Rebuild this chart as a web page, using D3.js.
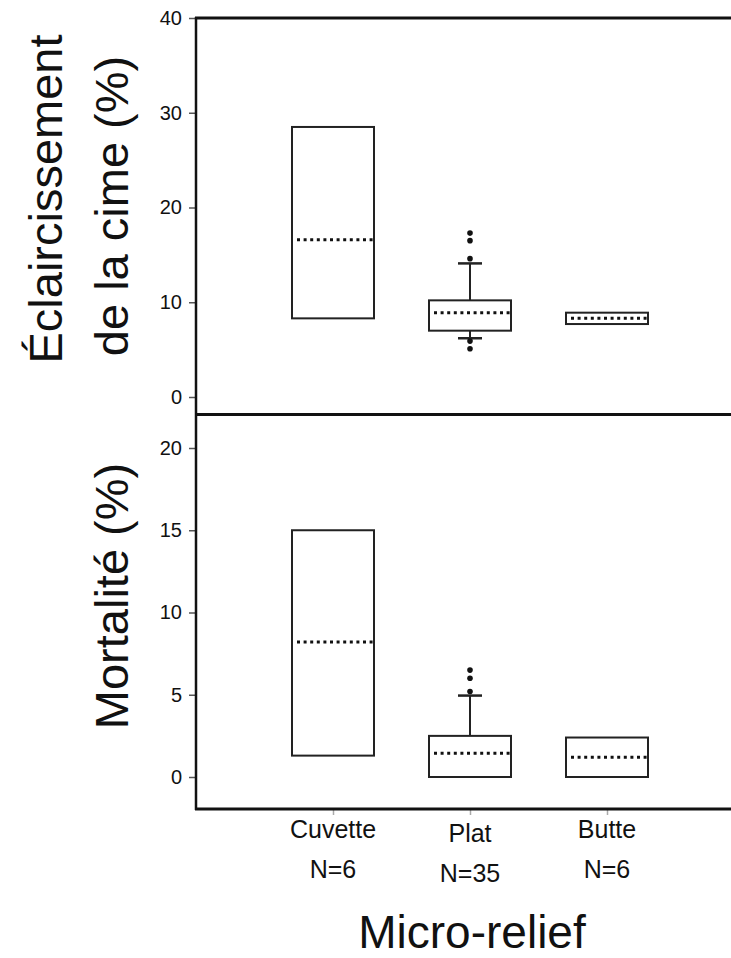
<!DOCTYPE html>
<html>
<head>
<meta charset="utf-8">
<script src="https://cdn.jsdelivr.net/npm/d3@7"></script>
<style>
  body { margin: 0; background: #fff; }
  svg text { font-family: Arial, "Liberation Sans", sans-serif; fill: #111; }
</style>
</head>
<body>
<svg id="chart" width="731" height="958"></svg>
<script>
// categories + sample sizes
const categories = ['Cuvette', 'Plat', 'Butte'];
const counts = [6, 35, 6];

// Éclaircissement de la cime (%)
const crownQ1 = [8.3, 7.0, 7.7];
const crownMedian = [16.6, 8.9, 8.3];
const crownQ3 = [28.5, 10.2, 8.9];
const crownLow = [null, 6.2, null];
const crownHigh = [null, 14.1, null];
const crownOutliers = [[], [17.3, 16.5, 14.6, 5.9, 5.1], []];
const crownTicks = [0, 10, 20, 30, 40];

// Mortalité (%)
const mortQ1 = [1.3, 0, 0];
const mortMedian = [8.2, 1.45, 1.2];
const mortQ3 = [15.0, 2.5, 2.4];
const mortLow = [null, null, null];
const mortHigh = [null, 4.95, null];
const mortOutliers = [[], [6.5, 6.0, 5.2], []];
const mortTicks = [0, 5, 10, 15, 20];

const svg = d3.select('#chart');
const left = 196, right = 731;
const topY = 18, sepY = 414.5, bottomY = 809;

// category centres, 137px apart
let xc = d3.scalePoint().domain(categories).range([333, 607]);
const boxW = 82;

let yTop = d3.scaleLinear().domain([0, 40]).range([397, 18]);
let yBot = d3.scaleLinear().domain([0, 20]).range([777, 448]);

function makeData(q1, med, q3, lo, hi, outs) {
  return categories.map((c, i) => ({
    cat: c, q1: q1[i], med: med[i], q3: q3[i], lo: lo[i], hi: hi[i], out: outs[i]
  }));
}

function drawAxis(y, ticks) {
  let g = svg.append('g')
    .attr('transform', 'translate(' + left + ',0)')
    .call(d3.axisLeft(y).tickValues(ticks).tickSize(7).tickPadding(7));
  g.select('.domain').remove();
  g.selectAll('.tick line').attr('stroke', '#555').attr('stroke-width', 1.5);
  g.selectAll('.tick text')
    .style('font-size', '20px')
    .attr('fill', '#333');
}

function drawBoxes(data, y) {
  let g = svg.append('g').attr('class', 'boxes');
  let box = g.selectAll('g.box')
    .data(data)
    .enter().append('g')
    .attr('class', 'box');

  // whiskers
  box.filter(d => d.hi != null).append('line')
    .attr('x1', d => xc(d.cat)).attr('x2', d => xc(d.cat))
    .attr('y1', d => y(d.q3)).attr('y2', d => y(d.hi))
    .attr('stroke', '#222').attr('stroke-width', 2);
  box.filter(d => d.hi != null).append('line')
    .attr('x1', d => xc(d.cat) - 12).attr('x2', d => xc(d.cat) + 12)
    .attr('y1', d => y(d.hi)).attr('y2', d => y(d.hi))
    .attr('stroke', '#222').attr('stroke-width', 2.5);
  box.filter(d => d.lo != null).append('line')
    .attr('x1', d => xc(d.cat)).attr('x2', d => xc(d.cat))
    .attr('y1', d => y(d.q1)).attr('y2', d => y(d.lo))
    .attr('stroke', '#222').attr('stroke-width', 2);
  box.filter(d => d.lo != null).append('line')
    .attr('x1', d => xc(d.cat) - 12).attr('x2', d => xc(d.cat) + 12)
    .attr('y1', d => y(d.lo)).attr('y2', d => y(d.lo))
    .attr('stroke', '#222').attr('stroke-width', 2.5);

  box.append('rect')
    .attr('x', d => xc(d.cat) - boxW / 2)
    .attr('width', boxW)
    .attr('y', d => y(d.q3))
    .attr('height', d => y(d.q1) - y(d.q3))
    .attr('fill', '#fff')
    .attr('stroke', '#222')
    .attr('stroke-width', 2);

  // dotted median
  box.append('line')
    .attr('x1', d => xc(d.cat) - boxW / 2 + 5)
    .attr('x2', d => xc(d.cat) + boxW / 2)
    .attr('y1', d => y(d.med)).attr('y2', d => y(d.med))
    .attr('stroke', '#111')
    .attr('stroke-width', 3)
    .attr('stroke-dasharray', '3,3.6');

  box.selectAll('circle')
    .data(d => d.out.map(v => ({cat: d.cat, v: v})))
    .enter().append('circle')
    .attr('cx', d => xc(d.cat))
    .attr('cy', d => y(d.v))
    .attr('r', 2.8)
    .attr('fill', '#111');
}

drawAxis(yTop, crownTicks);
drawAxis(yBot, mortTicks);
drawBoxes(makeData(crownQ1, crownMedian, crownQ3, crownLow, crownHigh, crownOutliers), yTop);
drawBoxes(makeData(mortQ1, mortMedian, mortQ3, mortLow, mortHigh, mortOutliers), yBot);

// bottom category ticks
let xa = svg.append('g')
  .attr('transform', 'translate(0,' + bottomY + ')')
  .call(d3.axisBottom(xc).tickSize(6).tickFormat(''));
xa.select('.domain').remove();
xa.selectAll('.tick line').attr('stroke', '#aaa').attr('stroke-width', 1.5);

// frame lines
svg.append('line').attr('x1', left).attr('x2', left).attr('y1', topY - 1).attr('y2', bottomY + 1)
  .attr('stroke', '#111').attr('stroke-width', 2.5);
[topY, sepY, bottomY].forEach(yy => {
  svg.append('line').attr('x1', left - 1).attr('x2', right).attr('y1', yy).attr('y2', yy)
    .attr('stroke', '#111').attr('stroke-width', 3);
});

// category labels
let labels = svg.append('g').selectAll('g')
  .data(categories)
  .enter().append('g')
  .attr('transform', (d, i) => 'translate(' + xc(d) + ',0)');
labels.append('text')
  .attr('y', (d, i) => i === 1 ? 842 : 838)
  .attr('text-anchor', 'middle')
  .style('font-size', '25px')
  .text(d => d);
labels.append('text')
  .attr('y', (d, i) => i === 1 ? 882 : 878)
  .attr('text-anchor', 'middle')
  .style('font-size', '25px')
  .text((d, i) => 'N=' + counts[i]);

svg.append('text')
  .attr('x', 472).attr('y', 948)
  .attr('text-anchor', 'middle')
  .style('font-size', '46px')
  .text('Micro-relief');

// y titles
svg.append('text')
  .attr('transform', 'translate(62,199) rotate(-90)')
  .attr('text-anchor', 'middle')
  .style('font-size', '47px')
  .text('Éclaircissement');
svg.append('text')
  .attr('transform', 'translate(128,206) rotate(-90)')
  .attr('text-anchor', 'middle')
  .style('font-size', '47px')
  .text('de la cime (%)');
svg.append('text')
  .attr('transform', 'translate(128,596) rotate(-90)')
  .attr('text-anchor', 'middle')
  .style('font-size', '47px')
  .text('Mortalité (%)');
</script>
</body>
</html>
